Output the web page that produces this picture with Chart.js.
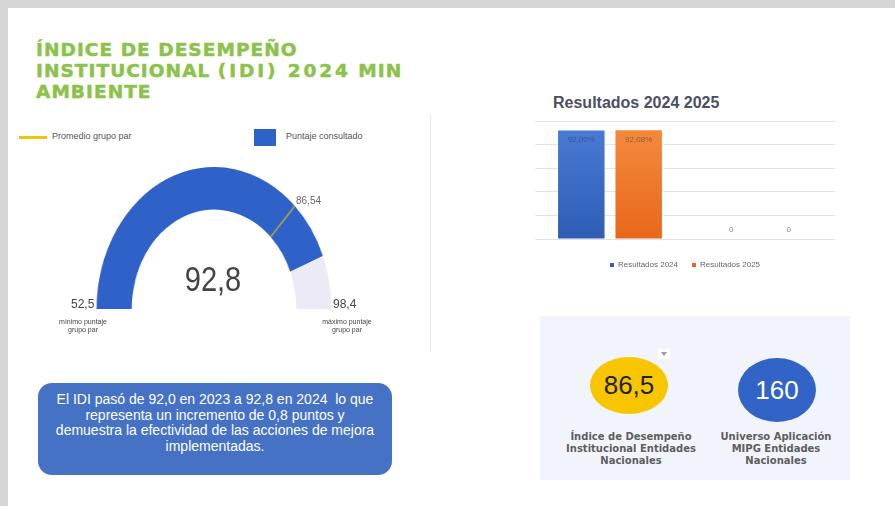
<!DOCTYPE html>
<html>
<head>
<meta charset="utf-8">
<script src="https://cdn.jsdelivr.net/npm/chart.js@4.4.1/dist/chart.umd.min.js"></script>
<style>
  html, body { margin: 0; padding: 0; }
  body { width: 895px; height: 506px; background: #d6d6d6; position: relative; overflow: hidden;
         font-family: "Liberation Sans", Arial, sans-serif; }
  #slide { position: absolute; left: 8px; top: 8px; width: 887px; height: 498px; background: #fff; }
  .abs { position: absolute; white-space: nowrap; }
  #titulo { left: 36px; top: 39px; font-family: "DejaVu Sans", Verdana, sans-serif; font-weight: bold;
            font-size: 18px; line-height: 21px; letter-spacing: 1px; color: #8bc34a;
            -webkit-text-stroke: 0.5px #8bc34a; transform: scaleX(1.03); transform-origin: 0 0; }
  #titulo span { letter-spacing: 2.8px; }
  .small { font-size: 9px; color: #555; }
  .tiny { font-size: 7px; color: #444; text-align: center; line-height: 8px; }
  #divisor { left: 430px; top: 115px; width: 1px; height: 237px; background: #e9e9e9; }
  #gauge { position: absolute; left: 72px; top: 167px; transform: scaleX(0.827); }
  #centro { left: 153px; top: 259px; width: 120px; text-align: center; font-size: 35px; color: #444;
            transform: scaleX(0.83); }
  #barwrap { position: absolute; left: 532px; top: 116px; }
  #barTitle { left: 553px; top: 94px; font-weight: bold; font-size: 16px; color: #4a5060; }
  #nota { left: 38px; top: 383px; width: 354px; height: 92px; background: #4672c6; border-radius: 14px;
          color: #fff; font-size: 14px; line-height: 15.6px; text-align: center; white-space: normal; }
  #nota div { padding-top: 9px; }
  #kpi { left: 540px; top: 316px; width: 310px; height: 164px; background: #f1f4fb; }
  .bola { position: absolute; border-radius: 50%; text-align: center; font-size: 26px; }
  .kpiTxt { font-family: "DejaVu Sans", Verdana, sans-serif; font-weight: bold; font-size: 10px;
            line-height: 12px; color: #5e5e5e; text-align: center; width: 180px; }
</style>
</head>
<body>
<div id="slide"></div>

<div id="titulo" class="abs">ÍNDICE DE DESEMPEÑO<br>INSTITUCIONAL <span>(IDI) 2024</span> MIN<br>AMBIENTE</div>

<!-- leyenda del medidor -->
<div class="abs" style="left:19px;top:136px;width:28px;height:3px;background:#f5c400"></div>
<div class="abs small" style="left:52px;top:131px">Promedio grupo par</div>
<div class="abs" style="left:254px;top:129px;width:22px;height:17px;background:#2f62c9"></div>
<div class="abs small" style="left:286px;top:131px">Puntaje consultado</div>

<canvas id="gauge" width="284" height="142"></canvas>
<div id="centro" class="abs">92,8</div>
<div class="abs" style="left:296px;top:195px;font-size:10px;color:#666">86,54</div>
<div class="abs" style="left:71px;top:297px;font-size:12px;color:#444">52,5</div>
<div class="abs" style="left:333px;top:297px;font-size:12px;color:#444">98,4</div>
<div class="abs tiny" style="left:53px;top:318px;width:60px">mínimo puntaje<br>grupo par</div>
<div class="abs tiny" style="left:317px;top:318px;width:60px">máximo puntaje<br>grupo par</div>

<div id="divisor" class="abs"></div>

<div id="barTitle" class="abs">Resultados 2024 2025</div>
<div id="barwrap"><canvas id="barras" width="310" height="163"></canvas></div>

<div id="nota" class="abs"><div>El IDI pasó de 92,0 en 2023 a 92,8 en 2024&nbsp; lo que<br>representa un incremento de 0,8 puntos y<br>demuestra la efectividad de las acciones de mejora<br>implementadas.</div></div>

<div id="kpi" class="abs"></div>
<div class="bola" style="left:590px;top:357px;width:78px;height:57px;line-height:57px;background:#f7c600;color:#222">86,5</div>
<div class="abs" style="left:658px;top:349px;width:12px;height:10px;background:#fff"></div>
<div class="abs" style="left:661px;top:352px;width:0;height:0;border-left:3px solid transparent;border-right:3px solid transparent;border-top:4px solid #999"></div>
<div class="bola" style="left:738px;top:358px;width:78px;height:64px;line-height:64px;background:#3264c8;color:#fff">160</div>
<div class="abs kpiTxt" style="left:541px;top:431px">Índice de Desempeño<br>Institucional Entidades<br>Nacionales</div>
<div class="abs kpiTxt" style="left:686px;top:431px">Universo Aplicación<br>MIPG Entidades<br>Nacionales</div>

<script>
// medidor IDI
const gaugeRange = [52.5, 98.4];      // minimo y maximo grupo par
const gaugeMarks = [86.54, 92.8];     // promedio grupo par, puntaje consultado

// barras resultados
const barCategories = ['Resultados', 'Pendiente'];
const seriesNames = ['Resultados 2024', 'Resultados 2025'];
const results2024 = [92.00, 0];
const results2025 = [92.08, 0];
const yTicks = [0, 20, 40, 60, 80, 100];

Chart.defaults.font.family = '"Liberation Sans", Arial, sans-serif';
Chart.defaults.animation = false;

var marcaPromedio = {
    id: 'marcaPromedio',
    afterDatasetsDraw: function (chart) {
        var arc = chart.getDatasetMeta(0).data[0];
        var p = arc.getProps(['x', 'y', 'innerRadius', 'outerRadius', 'endAngle'], true);
        var ctx = chart.ctx;
        ctx.save();
        ctx.strokeStyle = '#9aa04e';
        ctx.lineWidth = 2;
        ctx.beginPath();
        ctx.moveTo(p.x + Math.cos(p.endAngle) * p.innerRadius, p.y + Math.sin(p.endAngle) * p.innerRadius);
        ctx.lineTo(p.x + Math.cos(p.endAngle) * p.outerRadius, p.y + Math.sin(p.endAngle) * p.outerRadius);
        ctx.stroke();
        ctx.restore();
    }
};

new Chart(document.getElementById('gauge'), {
    type: 'doughnut',
    data: {
        labels: ['Hasta promedio', 'Sobre promedio', 'Restante'],
        datasets: [{
            data: [gaugeMarks[0] - gaugeRange[0], gaugeMarks[1] - gaugeMarks[0], gaugeRange[1] - gaugeMarks[1]],
            backgroundColor: ['#2f62c9', '#2f62c9', '#ecebf5'],
            borderWidth: 0
        }]
    },
    options: {
        responsive: false,
        rotation: -90,
        circumference: 180,
        cutout: '70%',
        events: [],
        plugins: { legend: { display: false }, tooltip: { enabled: false } }
    },
    plugins: [marcaPromedio]
});

function degradado(chart, arriba, abajo) {
    var area = chart.chartArea;
    if (!area) return abajo;
    var g = chart.ctx.createLinearGradient(0, area.top, 0, area.bottom);
    g.addColorStop(0, arriba);
    g.addColorStop(1, abajo);
    return g;
}

var etiquetas = {
    id: 'etiquetas',
    afterDatasetsDraw: function (chart) {
        var ctx = chart.ctx;
        ctx.save();
        ctx.textAlign = 'center';
        ctx.textBaseline = 'middle';
        ctx.font = '8px "Liberation Sans", Arial';
        chart.data.datasets.forEach(function (ds, i) {
            chart.getDatasetMeta(i).data.forEach(function (bar, j) {
                var v = ds.data[j];
                if (v > 0) {
                    ctx.fillStyle = 'rgba(50,55,80,0.55)';
                    ctx.fillText(v.toFixed(2).replace('.', ',') + '%', bar.x, bar.y + 9);
                } else {
                    ctx.fillStyle = '#808080';
                    ctx.fillText('0', bar.x, bar.base - 9);
                }
            });
        });
        ctx.restore();
    }
};

new Chart(document.getElementById('barras'), {
    type: 'bar',
    data: {
        labels: barCategories,
        datasets: [{
            label: seriesNames[0],
            data: results2024,
            backgroundColor: function (c) { return degradado(c.chart, '#4a7dd6', '#2e5cb5'); }
        }, {
            label: seriesNames[1],
            data: results2025,
            backgroundColor: function (c) { return degradado(c.chart, '#f58c3e', '#e8681b'); }
        }]
    },
    options: {
        responsive: false,
        events: [],
        categoryPercentage: 0.765,
        barPercentage: 0.81,
        layout: { padding: { left: 3, right: 7, top: 5, bottom: 0 } },
        scales: {
            x: { grid: { display: false }, ticks: { display: false }, border: { display: false } },
            y: {
                min: yTicks[0], max: yTicks[yTicks.length - 1],
                afterBuildTicks: function (axis) { axis.ticks = yTicks.map(function (v) { return { value: v }; }); },
                grid: { color: '#e3e3e3', drawTicks: false },
                ticks: { display: false },
                border: { display: false }
            }
        },
        plugins: {
            tooltip: { enabled: false },
            legend: {
                position: 'bottom',
                labels: { boxWidth: 4, boxHeight: 4, font: { size: 8 }, color: '#666', padding: 14 }
            }
        }
    },
    plugins: [etiquetas]
});
</script>
</body>
</html>
